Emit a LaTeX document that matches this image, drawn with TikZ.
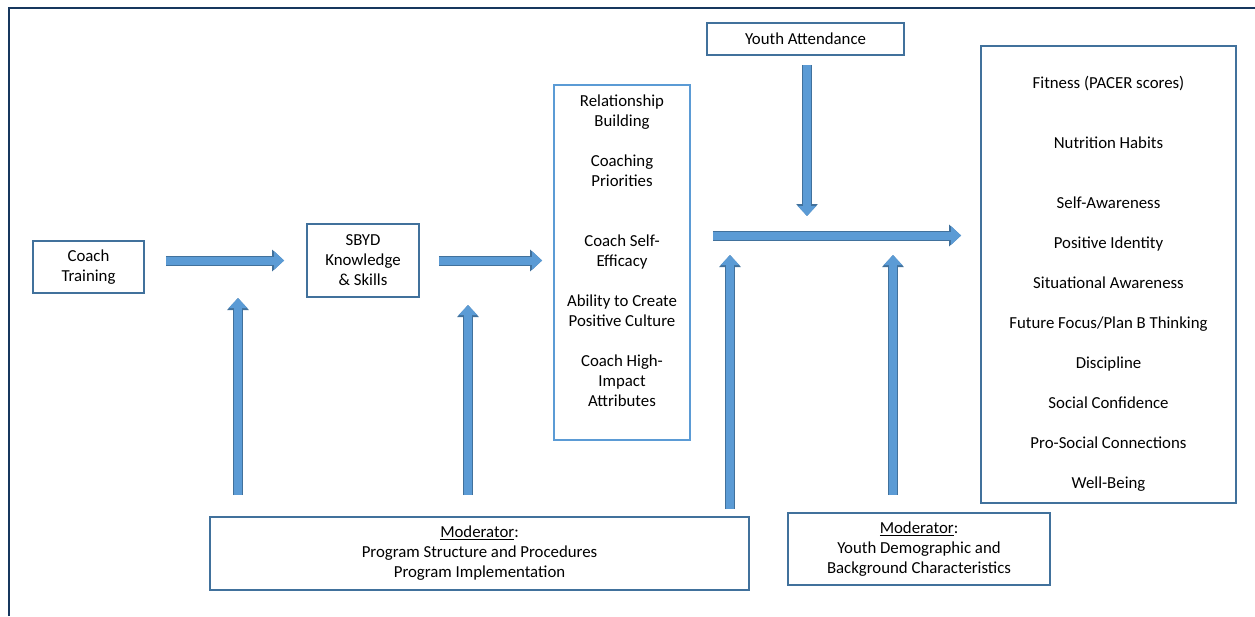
\documentclass[tikz,border=0pt]{standalone}
\usepackage{fontspec}
\setmainfont{Carlito}
\usepackage{tikz}
\usetikzlibrary{arrows.meta, math}

\definecolor{frameblue}{HTML}{17375E}
\definecolor{boxblue}{HTML}{41719C}
\definecolor{lightblue}{HTML}{5B9BD5}

\begin{document}
\begin{tikzpicture}[x=1pt, y=-1pt,
    box/.style={draw=boxblue, line width=1.8pt, align=center, inner sep=0pt, font=\fontsize{16.8pt}{20pt}\selectfont},
    boxtext/.style={align=center, inner sep=0pt, font=\fontsize{16.8pt}{20pt}\selectfont},
    blockarrow/.style={draw=lightblue, line width=8pt, -{Triangle[width=18pt, length=10pt]},
        preaction={draw=boxblue, line width=10pt, -{Triangle[width=21pt, length=12pt]}}}]
    \useasboundingbox (0,0) rectangle (1255,616);
    \draw[frameblue, line width=2.5pt] (9,616) -- (9,8) -- (1255,8);

    \node[box, minimum width=111pt, minimum height=52pt](coach) at (88.5,267) {Coach\\Training};
    \node[box, minimum width=112pt, minimum height=73pt](sbyd) at (363,260.5) {SBYD\\Knowledge\\\& Skills};

    \node[box, draw=lightblue, minimum width=136pt, minimum height=355pt](mid) at (622,262.5) {};
    \node[boxtext](mid-text) at (622,251) {Relationship\\Building\\[20pt] Coaching\\Priorities\\[40pt] Coach Self-\\Efficacy\\[20pt] Ability to Create\\Positive Culture\\[20pt] Coach High-\\Impact\\Attributes};

    \node[box, minimum width=197pt, minimum height=32pt](youth) at (805.5,39) {Youth Attendance};

    \node[box, minimum width=255pt, minimum height=457pt](out) at (1108.5,274.5) {};
    \node[boxtext](out-text) at (1108.5,283.5) {Fitness (PACER scores)\\[40pt] Nutrition Habits\\[40pt] Self-Awareness\\[20pt] Positive Identity\\[20pt] Situational Awareness\\[20pt] Future Focus/Plan B Thinking\\[20pt] Discipline\\[20pt] Social Confidence\\[20pt] Pro-Social Connections\\[20pt] Well-Being};

    \node[box, minimum width=539pt, minimum height=73pt](mod-prog) at (479.5,553.5) {\underline{Moderator}:\\Program Structure and Procedures\\Program Implementation};
    \node[box, minimum width=262pt, minimum height=72pt](mod-youth) at (919,549) {\underline{Moderator}:\\Youth Demographic and\\Background Characteristics};

    \coordinate (tip-a) at (238,298);
    \coordinate (tip-b) at (468,305);
    \coordinate (tip-c) at (730,255);
    \coordinate (tip-d) at (893,255);
    \coordinate (merge) at (807,235.5);

    \draw[blockarrow] ([xshift=21pt]coach.east |- sbyd.west) -- ([xshift=-22pt]sbyd.west);
    \draw[blockarrow] ([xshift=19pt]sbyd.east) -- ([xshift=-11pt]mid.west |- sbyd.east);
    \draw[blockarrow] ([xshift=22pt]mid.east |- merge) -- ([xshift=-19pt]out.west |- merge);
    \draw[blockarrow] ([yshift=-9pt]youth.south -| merge) -- ([yshift=19.5pt]merge);
    \draw[blockarrow] ([yshift=21pt]mod-prog.north -| tip-a) -- (tip-a);
    \draw[blockarrow] ([yshift=21pt]mod-prog.north -| tip-b) -- (tip-b);
    \draw[blockarrow] ([yshift=7pt]mod-prog.north -| tip-c) -- (tip-c);
    \draw[blockarrow] ([yshift=17pt]mod-youth.north -| tip-d) -- (tip-d);
\end{tikzpicture}
\end{document}
